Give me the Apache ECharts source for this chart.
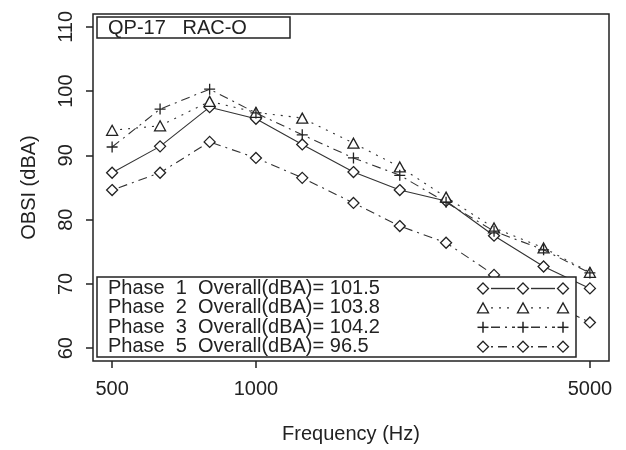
<!DOCTYPE html>
<html><head><meta charset="utf-8">
<script src="https://cdn.jsdelivr.net/npm/echarts@6/dist/echarts.min.js"></script>
<style>html,body{margin:0;padding:0;background:#fff}#c{width:626px;height:450px}</style>
</head><body><div id="c"></div>
<script>
// ---- data ----
const frequencies = [500, 630, 800, 1000, 1250, 1600, 2000, 2500, 3150, 4000, 5000];
const phase1 = [87.3, 91.4, 97.5, 95.7, 91.7, 87.4, 84.6, 82.9, 77.5, 72.7, 69.3];
const phase2 = [93.9, 94.6, 98.4, 96.7, 95.8, 91.9, 88.2, 83.5, 78.7, 75.6, 71.8];
const phase3 = [91.3, 97.2, 100.3, 96.6, 93.2, 89.6, 86.9, 82.7, 78.2, 75.3, 71.7];
const phase5 = [84.6, 87.3, 92.1, 89.6, 86.5, 82.6, 79.0, 76.4, 71.4, 67.5, 64.0];
const phaseNames = ['1', '2', '3', '5'];
const overallDBA = ['101.5', '103.8', '104.2', '96.5'];
const xTickValues = [500, 1000, 5000];
const yTickValues = [60, 70, 80, 90, 100, 110];
const chartTitle = 'QP-17   RAC-O';

// ---- styling ----
const ink = '#222';
const lineInk = '#333';
const FONT = 'Liberation Sans, Arial, sans-serif';
const plusPath = 'path://M0,5L10,5M5,0L5,10';
const seriesValues = [phase1, phase2, phase3, phase5];
const seriesStyles = [
  { symbol: 'diamond', size: 11, dash: 'solid', legendDash: null },
  { symbol: 'triangle', size: [11, 10], dash: [2, 6], legendDash: [2, 6] },
  { symbol: plusPath, size: 11, dash: [9, 5, 2, 5], legendDash: [9, 5, 2, 5] },
  { symbol: 'diamond', size: 11, dash: [2, 5, 9, 5], legendDash: [2, 5, 9, 5] }
];
const symbolKinds = ['diamond', 'triangle', 'plus', 'diamond'];

const series = seriesValues.map((vals, i) => ({
  type: 'line',
  name: 'Phase ' + phaseNames[i],
  data: frequencies.map((f, k) => [f, vals[k]]),
  symbol: seriesStyles[i].symbol,
  symbolSize: seriesStyles[i].size,
  showAllSymbol: true,
  lineStyle: { color: lineInk, width: 1.1, type: seriesStyles[i].dash },
  itemStyle: { color: '#fff', borderColor: ink, borderWidth: 1.3 },
  emphasis: { disabled: true },
  animation: false,
  z: 2 + i
}));

function symbolGraphics(kind, x, y) {
  const st = { fill: '#fff', stroke: ink, lineWidth: 1.3 };
  if (kind === 'diamond') {
    return [{ type: 'polygon', z: 20, shape: { points: [[x, y - 5.5], [x + 5.5, y], [x, y + 5.5], [x - 5.5, y]] }, style: st }];
  }
  if (kind === 'triangle') {
    return [{ type: 'polygon', z: 20, shape: { points: [[x, y - 5], [x + 5.5, y + 5], [x - 5.5, y + 5]] }, style: st }];
  }
  const ls = { stroke: ink, lineWidth: 1.5 };
  return [
    { type: 'line', z: 20, shape: { x1: x - 5.5, y1: y, x2: x + 5.5, y2: y }, style: ls },
    { type: 'line', z: 20, shape: { x1: x, y1: y - 5.5, x2: x, y2: y + 5.5 }, style: ls }
  ];
}

const graphics = [];
// title box
graphics.push({ type: 'rect', z: 15, shape: { x: 97, y: 17, width: 193, height: 21 }, style: { fill: '#fff', stroke: ink, lineWidth: 1.5 } });
graphics.push({ type: 'text', z: 16, x: 108, y: 28, style: { text: chartTitle, font: '20px ' + FONT, fill: ink, verticalAlign: 'middle' } });
// legend box
graphics.push({ type: 'rect', z: 15, shape: { x: 97, y: 277, width: 479, height: 80 }, style: { fill: '#fff', stroke: ink, lineWidth: 1.5 } });
phaseNames.forEach((p, i) => {
  const y = 288.5 + i * 19.4;
  graphics.push({ type: 'text', z: 16, x: 108, y: y, style: { text: 'Phase  ' + p + '  Overall(dBA)= ' + overallDBA[i], font: '20px ' + FONT, fill: ink, verticalAlign: 'middle' } });
  const xs = [483, 523, 563];
  graphics.push({ type: 'polyline', z: 17, shape: { points: [[xs[0] + 8, y], [xs[1] - 8, y]] }, style: { stroke: lineInk, lineWidth: 1.4, lineDash: seriesStyles[i].legendDash } });
  graphics.push({ type: 'polyline', z: 17, shape: { points: [[xs[1] + 8, y], [xs[2] - 8, y]] }, style: { stroke: lineInk, lineWidth: 1.4, lineDash: seriesStyles[i].legendDash } });
  xs.forEach(x => symbolGraphics(symbolKinds[i], x, y).forEach(g => graphics.push(g)));
});

const chart = echarts.init(document.getElementById('c'), null, { renderer: 'canvas' });
chart.setOption({
  animation: false,
  backgroundColor: '#fff',
  textStyle: { fontFamily: FONT },
  grid: { left: 93, right: 17, top: 14, bottom: 89, show: true, borderColor: ink, borderWidth: 1.5, backgroundColor: 'transparent' },
  xAxis: {
    type: 'log', logBase: 10, min: 456, max: 5482,
    name: 'Frequency (Hz)', nameLocation: 'middle', nameGap: 63,
    nameTextStyle: { fontSize: 20, color: ink, fontFamily: FONT },
    axisLine: { show: false },
    axisTick: { show: true, inside: false, length: 7, lineStyle: { color: ink, width: 1.5 }, customValues: xTickValues },
    axisLabel: { show: true, fontSize: 20, color: ink, margin: 18, customValues: xTickValues, formatter: v => String(Math.round(v)) },
    splitLine: { show: false }, minorTick: { show: false }
  },
  yAxis: {
    type: 'value', min: 58, max: 112,
    name: 'OBSI (dBA)', nameLocation: 'middle', nameGap: 54,
    nameTextStyle: { fontSize: 20, color: ink, fontFamily: FONT },
    axisLine: { show: false },
    axisTick: { show: true, inside: false, length: 7, lineStyle: { color: ink, width: 1.5 }, customValues: yTickValues },
    axisLabel: { show: true, fontSize: 20, color: ink, rotate: 90, margin: 17, customValues: yTickValues },
    splitLine: { show: false }
  },
  series: series,
  graphic: { elements: graphics }
});
</script>
</body></html>
